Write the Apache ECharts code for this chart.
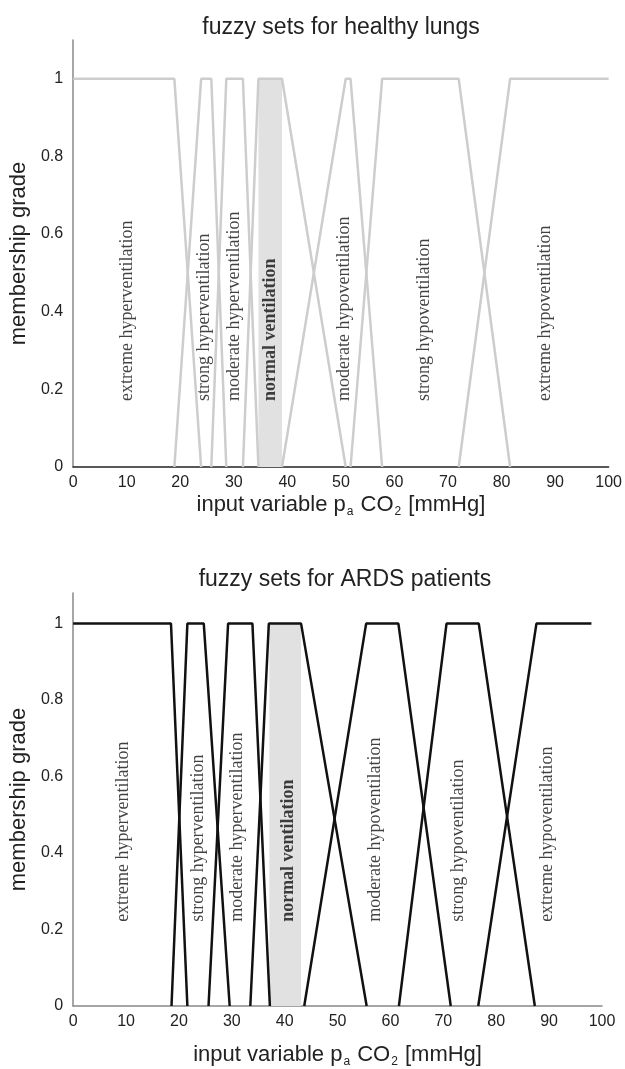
<!DOCTYPE html>
<html>
<head>
<meta charset="utf-8">
<script src="https://cdn.jsdelivr.net/npm/echarts@6/dist/echarts.min.js"></script>
<style>
  html, body { margin: 0; padding: 0; background: #fff; }
  #chart { width: 625px; height: 1069px; }
</style>
</head>
<body>
<div id="chart"></div>
<script>
// x ticks
var xTicks = [0, 10, 20, 30, 40, 50, 60, 70, 80, 90, 100]

// fuzzy sets for healthy lungs, [pCO2, grade]
var healthyExtremeHyper = [[0, 1], [18.9, 1], [23.9, 0]]
var healthyStrongHyper = [[18.9, 0], [23.9, 1], [25.8, 1], [28.6, 0]]
var healthyModerateHyper = [[25.8, 0], [28.6, 1], [31.7, 1], [34.6, 0]]
var healthyNormal = [[31.7, 0], [34.6, 1], [39.0, 1], [50.9, 0]]
var healthyModerateHypo = [[39.0, 0], [50.9, 1], [51.8, 1], [57.7, 0]]
var healthyStrongHypo = [[51.8, 0], [57.7, 1], [72.0, 1], [81.6, 0]]
var healthyExtremeHypo = [[72.0, 0], [81.6, 1], [100, 1]]
var healthyNormalBand = [34.6, 39.0]

// fuzzy sets for ARDS patients
var ardsExtremeHyper = [[0, 1], [18.5, 1], [21.6, 0]]
var ardsStrongHyper = [[18.6, 0], [21.6, 1], [24.7, 1], [29.6, 0]]
var ardsModerateHyper = [[25.6, 0], [29.3, 1], [33.9, 1], [37.2, 0]]
var ardsNormal = [[33.5, 0], [37.0, 1], [43.1, 1], [55.5, 0]]
var ardsModerateHypo = [[43.7, 0], [55.4, 1], [61.5, 1], [71.4, 0]]
var ardsStrongHypo = [[61.6, 0], [70.6, 1], [76.7, 1], [87.3, 0]]
var ardsExtremeHypo = [[76.6, 0], [87.6, 1], [98, 1]]
var ardsNormalBand = [37.1, 43.1]

// set names and where their labels sit
var setNames = ['extreme hyperventilation', 'strong hyperventilation', 'moderate hyperventilation',
  'normal ventilation', 'moderate hypoventilation', 'strong hypoventilation', 'extreme hypoventilation']
var healthyLabelX = [10.2, 24.5, 30.1, 36.9, 50.6, 65.5, 88.2]
var ardsLabelX = [9.4, 23.6, 31.1, 40.6, 57.1, 72.9, 89.6]
var healthyLabelY = 0.17
var ardsLabelY = 0.22

var healthySets = [healthyExtremeHyper, healthyStrongHyper, healthyModerateHyper, healthyNormal,
  healthyModerateHypo, healthyStrongHypo, healthyExtremeHypo]
var ardsSets = [ardsExtremeHyper, ardsStrongHyper, ardsModerateHyper, ardsNormal,
  ardsModerateHypo, ardsStrongHypo, ardsExtremeHypo]

var sans = 'Liberation Sans, Arial, Helvetica, sans-serif'
var serif = 'Liberation Serif, Times New Roman, serif'

function xAxis (idx, color, gap) {
  return {
    type: 'value',
    gridIndex: idx,
    min: xTicks[0],
    max: xTicks[xTicks.length - 1],
    interval: 10,
    axisLine: { lineStyle: { color: color, width: 1.5 } },
    axisTick: { show: false },
    splitLine: { show: false },
    axisLabel: { color: '#222', fontSize: 16, fontFamily: sans, margin: 8 },
    name: '{n|input variable p}{s|a}{n| CO}{s|2}{n| [mmHg]}',
    nameLocation: 'middle',
    nameGap: gap,
    nameTextStyle: {
      color: '#222',
      fontFamily: sans,
      fontSize: 22,
      rich: {
        n: { fontSize: 22, fontFamily: sans, color: '#222', lineHeight: 26 },
        s: { fontSize: 12, fontFamily: sans, color: '#222', verticalAlign: 'bottom', lineHeight: 26, padding: [14, 1, 0, 1] }
      }
    }
  }
}

function yAxis (idx, max) {
  return {
    type: 'value',
    gridIndex: idx,
    min: 0,
    max: max,
    interval: 0.2,
    axisLine: { show: true, lineStyle: { color: '#888', width: 1.5 } },
    axisTick: { show: false },
    splitLine: { show: false },
    axisLabel: { color: '#222', fontSize: 16, fontFamily: sans, margin: 10, showMaxLabel: false },
    name: 'membership grade',
    nameLocation: 'middle',
    nameGap: 37,
    nameTextStyle: { color: '#222', fontSize: 22, fontFamily: sans }
  }
}

function setSeries (sets, idx, color, band) {
  return sets.map(function (pts, i) {
    var s = {
      type: 'line',
      xAxisIndex: idx,
      yAxisIndex: idx,
      data: pts,
      symbol: 'none',
      silent: true,
      z: 3,
      lineStyle: { color: color, width: 2.5 }
    }
    if (i === 3) {
      s.markArea = {
        silent: true,
        itemStyle: { color: '#e1e1e1' },
        data: [[{ xAxis: band[0], yAxis: 0 }, { xAxis: band[1], yAxis: 1 }]]
      }
    }
    return s
  })
}

function labelSeries (xs, y, idx) {
  return {
    type: 'scatter',
    xAxisIndex: idx,
    yAxisIndex: idx,
    symbolSize: 0,
    silent: true,
    z: 4,
    data: xs.map(function (x, i) { return { value: [x, y], name: setNames[i] } }),
    label: {
      show: true,
      position: 'inside',
      rotate: 90,
      align: 'left',
      verticalAlign: 'middle',
      fontFamily: serif,
      fontSize: 18,
      color: '#111',
      formatter: function (p) {
        return p.dataIndex === 3 ? '{b|' + p.name + '}' : p.name
      },
      rich: { b: { fontFamily: serif, fontSize: 18, fontWeight: 'bold', color: '#111' } }
    }
  }
}

var chart = echarts.init(document.getElementById('chart'), null, { renderer: 'canvas' })
var option = {
  backgroundColor: '#fff',
  animation: false,
  title: [
    { text: 'fuzzy sets for healthy lungs', left: 336, top: 11, textAlign: 'center',
      textStyle: { fontFamily: sans, fontSize: 23, fontWeight: 'normal', color: '#222' } },
    { text: 'fuzzy sets for ARDS patients', left: 340, top: 563, textAlign: 'center',
      textStyle: { fontFamily: sans, fontSize: 23, fontWeight: 'normal', color: '#222' } }
  ],
  grid: [
    { left: 73, right: 15, top: 40, height: 427 },
    { left: 73, right: 23, top: 593, height: 417 }
  ],
  xAxis: [xAxis(0, '#222', 20), xAxis(1, '#888', 36)],
  yAxis: [yAxis(0, 1.1), yAxis(1, 1.08)],
  series: []
    .concat(setSeries(healthySets, 0, '#cdcdcd', healthyNormalBand))
    .concat(setSeries(ardsSets, 1, '#111', ardsNormalBand))
    .concat([labelSeries(healthyLabelX, healthyLabelY, 0), labelSeries(ardsLabelX, ardsLabelY, 1)])
}
chart.setOption(option)
</script>
</body>
</html>
